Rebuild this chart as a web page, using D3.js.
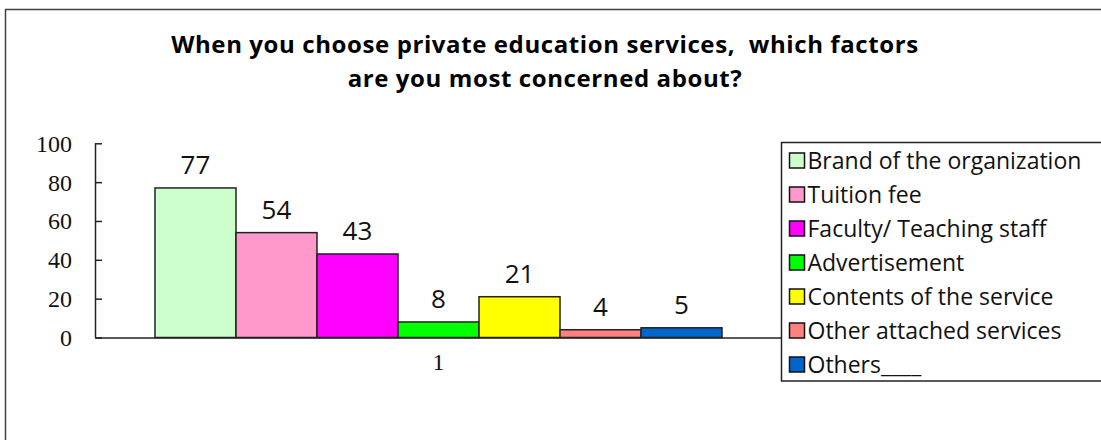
<!DOCTYPE html>
<html>
<head>
<meta charset="utf-8">
<script src="https://cdn.jsdelivr.net/npm/d3@7"></script>
<style>
  html, body { margin: 0; padding: 0; background: #fff; }
  svg { display: block; }
  .title { white-space: pre; }
</style>
</head>
<body>
<svg id="chart" width="1101" height="440"></svg>
<script>
// Survey answers: factors considered when choosing private education services
const categories = ["1"];
const seriesNames = [
  "Brand of the organization",
  "Tuition fee",
  "Faculty/ Teaching staff",
  "Advertisement",
  "Contents of the service",
  "Other attached services",
  "Others____"
];
const seriesValues = [77, 54, 43, 8, 21, 4, 5];
const seriesColors = ["#CCFFCC", "#FF99CC", "#FF00FF", "#00FF00", "#FFFF00", "#FF8080", "#0066CC"];
const yTicks = [0, 20, 40, 60, 80, 100];
const titleLines = [
  "When you choose private education services,  which factors",
  "are you most concerned about?"
];

const svg = d3.select("#chart");
const plot = { left: 95, right: 782, top: 143.3, bottom: 337.5 };

// Outer chart frame
svg.append("rect")
  .attr("x", 5.5).attr("y", 9.5)
  .attr("width", 1110).attr("height", 450)
  .attr("fill", "#fff").attr("stroke", "#404040").attr("stroke-width", 1.5);

// Title
svg.append("g").selectAll("text").data(titleLines).join("text")
  .attr("class", "title")
  .attr("x", 545).attr("y", (d, i) => 53 + i * 34)
  .attr("text-anchor", "middle")
  .attr("font-family", "'Open Sans', 'Noto Sans', sans-serif")
  .attr("font-weight", "bold").attr("font-size", 24)
  .attr("letter-spacing", 0.6)
  .attr("fill", "#000")
  .text(d => d);

// Scales
const x0 = d3.scaleBand().domain(categories).range([plot.left, plot.right]).paddingInner(0).paddingOuter(0.1058);
const x1 = d3.scaleBand().domain(seriesNames).range([0, x0.bandwidth()]);
const y = d3.scaleLinear().domain([0, 100]).range([plot.bottom, plot.top]);

// Y axis (ticks point inward)
const yAxis = svg.append("g")
  .attr("transform", `translate(${plot.left},0)`)
  .call(d3.axisRight(y).tickValues(yTicks).tickSize(7).tickFormat(d3.format("d")));
yAxis.select(".domain").attr("stroke", "#222").attr("stroke-width", 1.5).attr("d", `M0.5,${plot.top}V${plot.bottom}`);
yAxis.selectAll(".tick line").attr("stroke", "#222").attr("stroke-width", 1.5);
yAxis.selectAll(".tick text")
  .attr("x", -23).attr("text-anchor", "end").attr("dy", "0.33em")
  .attr("font-family", "'Liberation Serif', serif").attr("font-size", 24).attr("fill", "#111");

// Bars
const groups = svg.append("g").selectAll("g").data(categories).join("g")
  .attr("transform", d => `translate(${x0(d)},0)`);

groups.selectAll("rect")
  .data(() => seriesNames.map((n, i) => ({ name: n, value: seriesValues[i], color: seriesColors[i] })))
  .join("rect")
  .attr("x", d => x1(d.name))
  .attr("y", d => y(d.value))
  .attr("width", x1.bandwidth())
  .attr("height", d => y(0) - y(d.value))
  .attr("fill", d => d.color)
  .attr("stroke", "#222").attr("stroke-width", 1.5);

// Value labels
groups.selectAll("text.val")
  .data(() => seriesNames.map((n, i) => ({ name: n, value: seriesValues[i] })))
  .join("text").attr("class", "val")
  .attr("x", d => x1(d.name) + x1.bandwidth() / 2)
  .attr("y", d => y(d.value) - 14)
  .attr("text-anchor", "middle")
  .attr("font-family", "'Open Sans', 'Noto Sans', sans-serif")
  .attr("font-size", 26).attr("fill", "#111")
  .text(d => d.value);

// X axis baseline and category label
const xAxis = svg.append("g")
  .attr("transform", `translate(0,${plot.bottom})`)
  .call(d3.axisBottom(x0).tickSize(0).tickPadding(20));
xAxis.select(".domain").attr("stroke", "#222").attr("stroke-width", 1.5);
xAxis.selectAll(".tick text")
  .attr("font-family", "'Liberation Serif', serif").attr("font-size", 24).attr("fill", "#111")
  .attr("dy", "0.5em");

// Legend
const legend = svg.append("g");
legend.append("rect")
  .attr("x", 781.5).attr("y", 142.5).attr("width", 330).attr("height", 238.5)
  .attr("fill", "#fff").attr("stroke", "#222").attr("stroke-width", 1.5);
const items = legend.selectAll("g.item").data(seriesNames).join("g").attr("class", "item")
  .attr("transform", (d, i) => `translate(789.5,${160.5 + i * 34})`);
items.append("rect")
  .attr("x", 0).attr("y", -7.5).attr("width", 15).attr("height", 15)
  .attr("fill", (d, i) => seriesColors[i]).attr("stroke", "#111").attr("stroke-width", 1.5);
items.append("text")
  .attr("x", 18).attr("dy", "0.36em")
  .attr("font-family", "'Open Sans', 'Noto Sans', sans-serif")
  .attr("font-size", 23).attr("fill", "#111")
  .text(d => d);
</script>
</body>
</html>
